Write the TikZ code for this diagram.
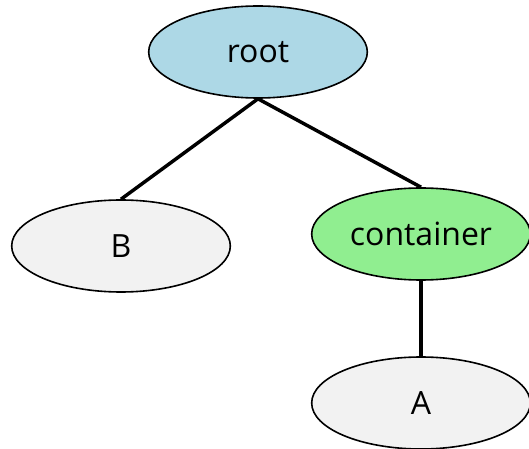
\documentclass[tikz,border=0pt]{standalone}
\usepackage{fontspec}
\setmainfont{Open Sans}
\usetikzlibrary{shapes.geometric}
\definecolor{rootblue}{RGB}{173,216,230}
\definecolor{boxgreen}{RGB}{144,238,144}
\definecolor{leafgray}{RGB}{242,242,242}

\begin{document}
\begin{tikzpicture}[x=0.75pt,y=-0.75pt,every node/.style={font=\fontsize{24}{28}\selectfont},blob/.style={ellipse,draw,line width=1.2pt,minimum width=164pt,minimum height=69pt,inner sep=0pt},link/.style={line width=2.6pt}]
\useasboundingbox (0,0) rectangle (529,449);
\node[blob,fill=rootblue] (root) at (258,52) {root};\node[blob,fill=leafgray] (B) at (121,246) {B};\node[blob,fill=boxgreen] (container) at (421,234) {container};\node[blob,fill=leafgray] (A) at (421,403) {A};
\draw[link] (root.south)--(B.north);\draw[link] (root.south)--(container.north);\draw[link] (container.south)--(A.north);
\end{tikzpicture}
\end{document}
